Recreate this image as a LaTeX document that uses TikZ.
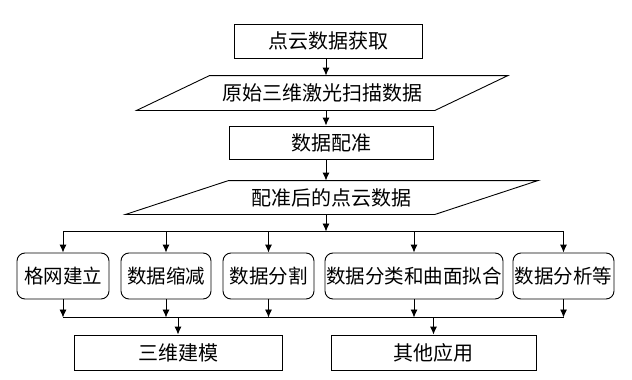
\documentclass[tikz,border=0pt]{standalone}
\usepackage{fontspec}
\newfontfamily\cjk{Noto Sans CJK SC}
\usepackage{tikz}
\usetikzlibrary{arrows.meta, positioning, calc}
\tikzset{
  stepbox/.style={
    rectangle, draw=black, line width=0.9pt,
    inner sep=0pt, text centered,
    font=\cjk\fontsize{20pt}{22pt}\selectfont
  },
  databox/.style={stepbox, draw=none},
  taskbox/.style={stepbox, rounded corners=8pt, minimum height=46pt,
    font=\cjk\fontsize{19.5pt}{22pt}\selectfont},
  resultbox/.style={stepbox, minimum height=35pt},
  slantline/.style={line width=0.9pt, line join=miter},
  busline/.style={line width=0.9pt},
  arrow/.style={-{Latex[length=8pt,width=7pt]}, line width=0.9pt}
}

\begin{document}
\begin{tikzpicture}[x=1pt, y=-1pt]
  \useasboundingbox (0,0) rectangle (632,380);
  \coordinate (spine) at (326,0);
  \coordinate (busA) at (0,231.5);
  \coordinate (busB) at (0,317.5);

  % Main chain
  \node[stepbox, minimum width=188pt, minimum height=34pt] (acq) at (328,41) {点云数据获取};
  \node[databox, minimum width=297.5pt, minimum height=34pt] (raw) at (322.25,93) {原始三维激光扫描数据};
  \node[stepbox, minimum width=204pt, minimum height=33pt] (reg) at (331,142.5) {数据配准};
  \node[databox, minimum width=308.5pt, minimum height=33pt] (regdata) at (331.75,197.5) {配准后的点云数据};

  % Parallelograms for the data nodes
  \draw[slantline] ([xshift=-36.5pt]raw.south west) -- ([xshift=-36.5pt]raw.south east)
    -- ([xshift=36.5pt]raw.north east) -- ([xshift=36.5pt]raw.north west) -- cycle;
  \draw[slantline] ([xshift=-51.5pt]regdata.south west) -- ([xshift=-51.5pt]regdata.south east)
    -- ([xshift=51.5pt]regdata.north east) -- ([xshift=51.5pt]regdata.north west) -- cycle;

  % Processing tasks
  \node[taskbox, minimum width=92pt] (mesh) at (63,276) {格网建立};
  \node[taskbox, minimum width=90pt] (reduce) at (166,276) {数据缩减};
  \node[taskbox, minimum width=91pt] (seg) at (268.5,276) {数据分割};
  \node[taskbox, minimum width=178pt] (fit) at (414,276) {数据分类和曲面拟合};
  \node[taskbox, minimum width=101pt] (ana) at (563.5,276) {数据分析等};

  % Results
  \node[resultbox, minimum width=208pt] (model) at (178,352.5) {三维建模};
  \node[resultbox, minimum width=205pt] (other) at (433.5,352.5) {其他应用};

  % Arrows down the chain
  \draw[arrow] (acq.south -| spine) -- (raw.north -| spine);
  \draw[arrow] (raw.south -| spine) -- (reg.north -| spine);
  \draw[arrow] (reg.south -| spine) -- (regdata.north -| spine);
  \draw[arrow] (regdata.south -| spine) -- (busA -| spine);

  % Buses
  \draw[busline] (busA -| mesh) -- (busA -| ana);
  \draw[busline] (busB -| mesh) -- (busB -| ana);
  \foreach \t in {mesh, reduce, seg, fit, ana} {
    \draw[arrow] (busA -| \t) -- (\t.north);
    \draw[arrow] (\t.south) -- (busB -| \t);
  }
  \draw[arrow] (busB -| model) -- (model.north);
  \draw[arrow] (busB -| other) -- (other.north);
\end{tikzpicture}
\end{document}
